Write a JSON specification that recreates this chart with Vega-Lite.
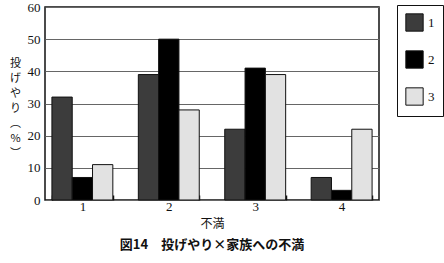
{
  "$schema": "https://vega.github.io/schema/vega-lite/v6.json",
  "width": 334,
  "height": 193,
  "autosize": "none",
  "padding": {"left": 45, "top": 7, "right": 65, "bottom": 63},
  "background": "white",
  "data": {
    "values": [
      {"不満": "1", "series": "1", "value": 32},
      {"不満": "1", "series": "2", "value": 7},
      {"不満": "1", "series": "3", "value": 11},
      {"不満": "2", "series": "1", "value": 39},
      {"不満": "2", "series": "2", "value": 50},
      {"不満": "2", "series": "3", "value": 28},
      {"不満": "3", "series": "1", "value": 22},
      {"不満": "3", "series": "2", "value": 41},
      {"不満": "3", "series": "3", "value": 39},
      {"不満": "4", "series": "1", "value": 7},
      {"不満": "4", "series": "2", "value": 3},
      {"不満": "4", "series": "3", "value": 22}
    ]
  },
  "title": {
    "text": "図14　投げやり×家族への不満",
    "orient": "bottom",
    "anchor": "middle",
    "font": "Noto Sans CJK JP",
    "fontSize": 13,
    "fontWeight": "bold",
    "color": "#111",
    "offset": 10
  },
  "mark": {"type": "bar", "stroke": "#111", "strokeWidth": 1},
  "encoding": {
    "x": {
      "field": "不満",
      "type": "nominal",
      "scale": {"paddingInner": 0.295, "paddingOuter": 0.08},
      "axis": {
        "title": "不満",
        "titleFont": "Noto Sans CJK JP",
        "titleFontSize": 12,
        "titleFontWeight": "normal",
        "titleColor": "#111",
        "titlePadding": 5,
        "labelAngle": 0,
        "labelFont": "Liberation Serif",
        "labelFontSize": 13,
        "labelColor": "#111",
        "labelPadding": 5,
        "domain": false,
        "tickBand": "extent",
        "tickSize": -5,
        "tickColor": "#111",
        "tickWidth": 1.5
      }
    },
    "xOffset": {"field": "series", "type": "nominal", "scale": {"paddingInner": 0, "paddingOuter": 0}},
    "y": {
      "field": "value",
      "type": "quantitative",
      "scale": {"domain": [0, 60]},
      "axis": {
        "values": [0, 10, 20, 30, 40, 50, 60],
        "title": ["投", "げ", "や", "り", "︵", "%", "︶"],
        "titleAngle": 0,
        "titleFont": "Noto Sans CJK JP",
        "titleFontSize": 11,
        "titleFontWeight": "normal",
        "titleLineHeight": 15,
        "titleColor": "#111",
        "titleX": -30,
        "titleY": 50,
        "titleAlign": "center",
        "titleBaseline": "top",
        "labelFont": "Liberation Serif",
        "labelFontSize": 13,
        "labelColor": "#111",
        "labelPadding": 5,
        "ticks": false,
        "domain": false,
        "grid": true,
        "gridColor": "#666",
        "gridWidth": 1.2
      }
    },
    "color": {
      "field": "series",
      "type": "nominal",
      "scale": {"domain": ["1", "2", "3"], "range": ["#3c3c3c", "#000000", "#e2e2e2"]},
      "legend": {
        "title": null,
        "orient": "none",
        "legendX": 352,
        "legendY": -2,
        "symbolType": "square",
        "symbolSize": 300,
        "symbolStrokeColor": "#111",
        "symbolStrokeWidth": 1,
        "rowPadding": 14,
        "labelFont": "Liberation Serif",
        "labelFontSize": 13,
        "labelColor": "#111",
        "strokeColor": "#111",
        "padding": 8,
        "fillColor": "white"
      }
    }
  },
  "config": {
    "view": {"stroke": "#111", "strokeWidth": 1.5}
  }
}
